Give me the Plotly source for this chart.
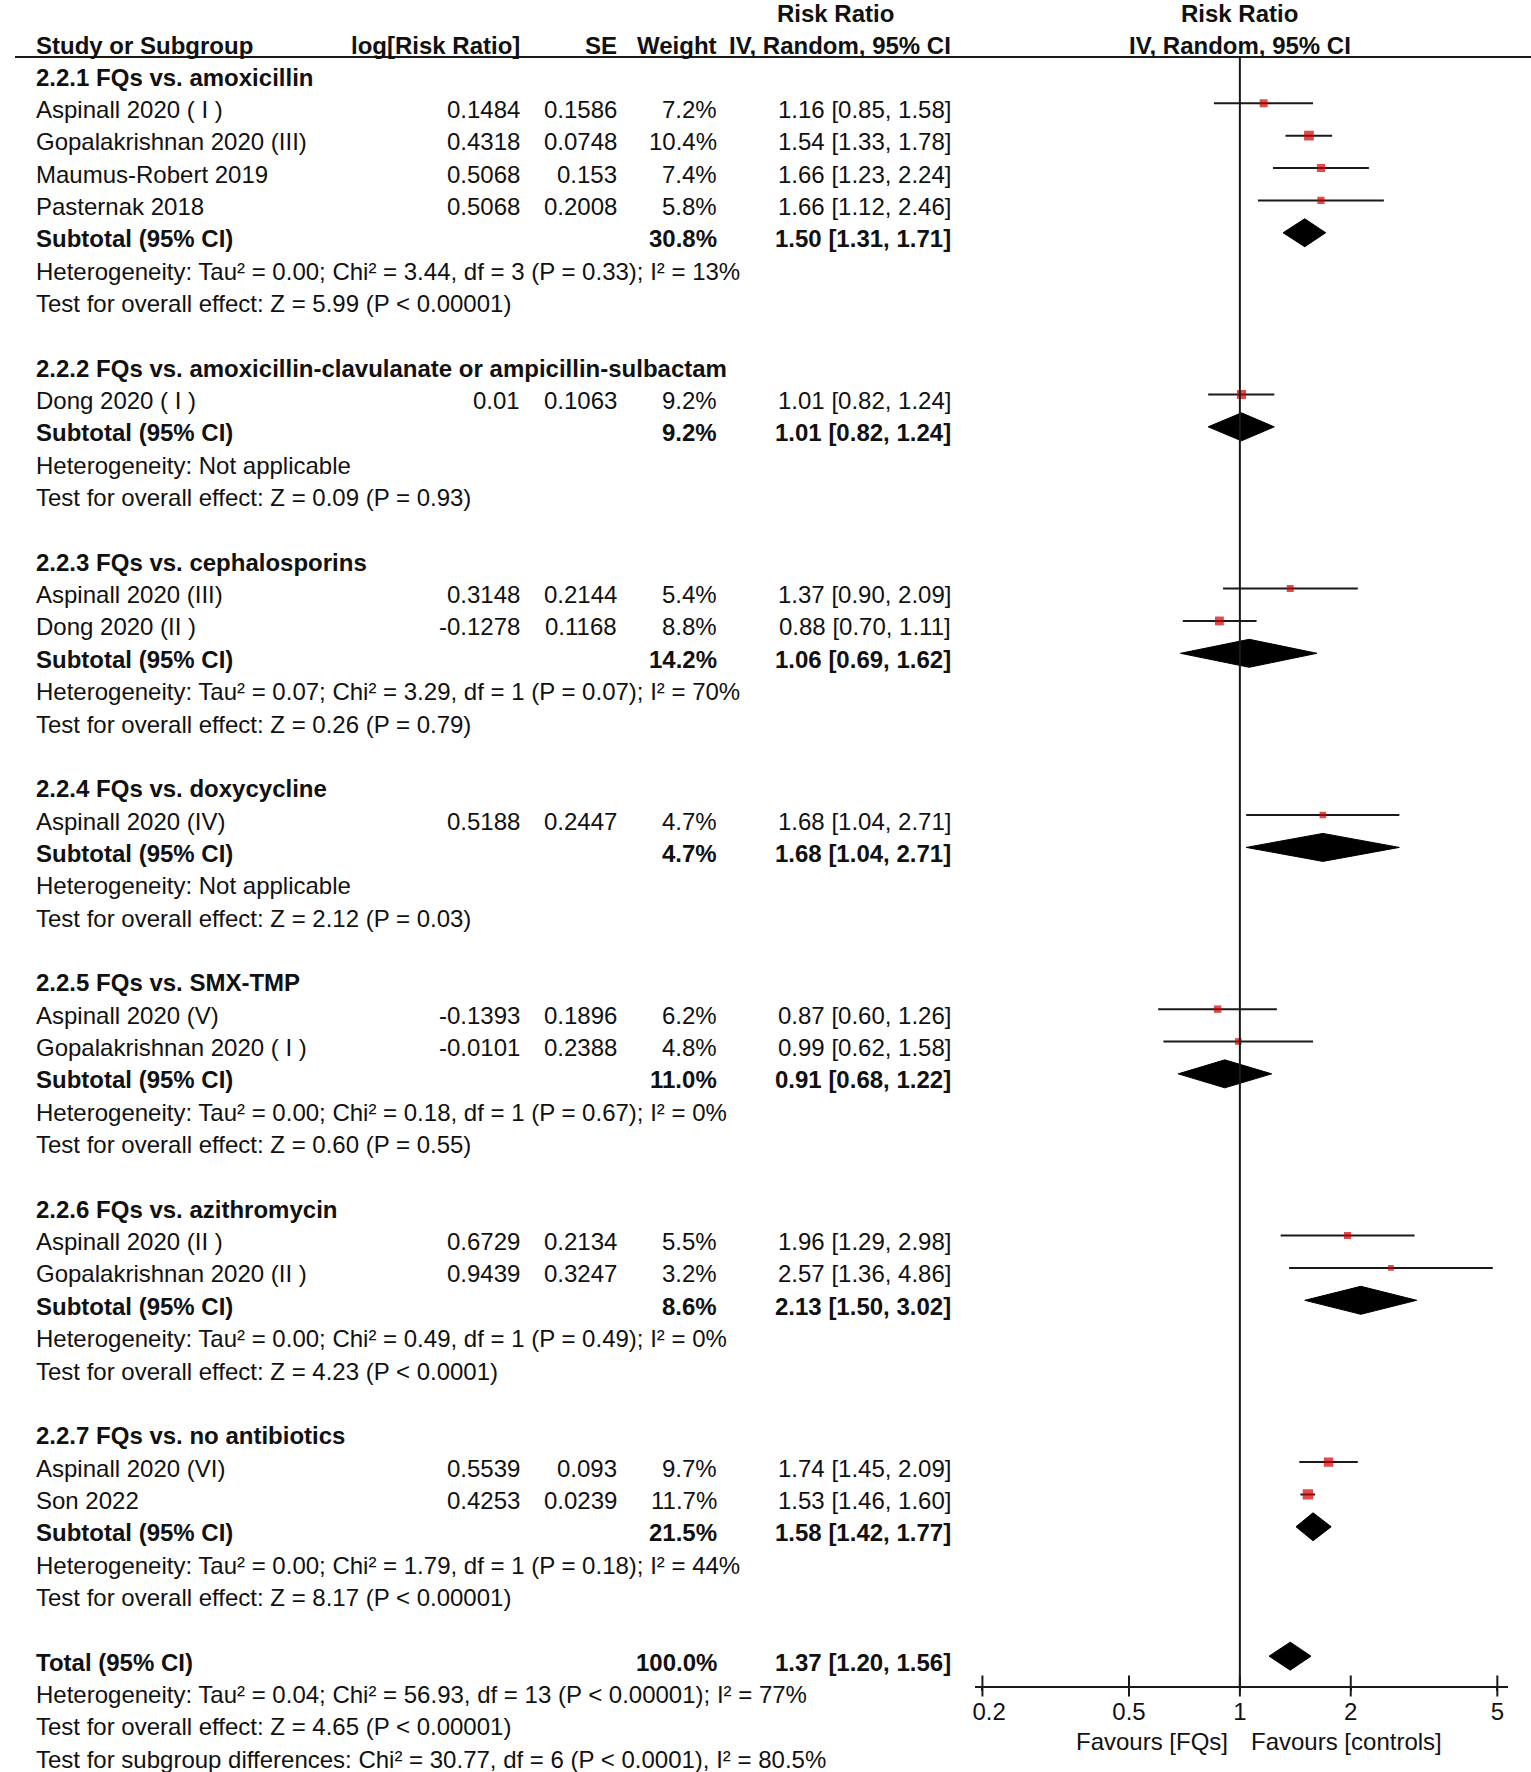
import plotly.graph_objects as go
import math

# ---------------- data ----------------
group_titles = [
    "2.2.1 FQs vs. amoxicillin",
    "2.2.2 FQs vs. amoxicillin-clavulanate or ampicillin-sulbactam",
    "2.2.3 FQs vs. cephalosporins",
    "2.2.4 FQs vs. doxycycline",
    "2.2.5 FQs vs. SMX-TMP",
    "2.2.6 FQs vs. azithromycin",
    "2.2.7 FQs vs. no antibiotics",
]
group_sizes = [4, 1, 2, 1, 2, 2, 2]

study_names = [
    "Aspinall 2020 ( I )", "Gopalakrishnan 2020 (III)", "Maumus-Robert 2019", "Pasternak 2018",
    "Dong 2020 ( I )",
    "Aspinall 2020 (III)", "Dong 2020 (II )",
    "Aspinall 2020 (IV)",
    "Aspinall 2020 (V)", "Gopalakrishnan 2020 ( I )",
    "Aspinall 2020 (II )", "Gopalakrishnan 2020 (II )",
    "Aspinall 2020 (VI)", "Son 2022",
]
log_rr = ["0.1484", "0.4318", "0.5068", "0.5068", "0.01", "0.3148", "-0.1278", "0.5188",
          "-0.1393", "-0.0101", "0.6729", "0.9439", "0.5539", "0.4253"]
se = ["0.1586", "0.0748", "0.153", "0.2008", "0.1063", "0.2144", "0.1168", "0.2447",
      "0.1896", "0.2388", "0.2134", "0.3247", "0.093", "0.0239"]
weight = [7.2, 10.4, 7.4, 5.8, 9.2, 5.4, 8.8, 4.7, 6.2, 4.8, 5.5, 3.2, 9.7, 11.7]
rr = [1.16, 1.54, 1.66, 1.66, 1.01, 1.37, 0.88, 1.68, 0.87, 0.99, 1.96, 2.57, 1.74, 1.53]
rr_lo = [0.85, 1.33, 1.23, 1.12, 0.82, 0.90, 0.70, 1.04, 0.60, 0.62, 1.29, 1.36, 1.45, 1.46]
rr_hi = [1.58, 1.78, 2.24, 2.46, 1.24, 2.09, 1.11, 2.71, 1.26, 1.58, 2.98, 4.86, 2.09, 1.60]

sub_weight = [30.8, 9.2, 14.2, 4.7, 11.0, 8.6, 21.5]
sub_rr = [1.50, 1.01, 1.06, 1.68, 0.91, 2.13, 1.58]
sub_lo = [1.31, 0.82, 0.69, 1.04, 0.68, 1.50, 1.42]
sub_hi = [1.71, 1.24, 1.62, 2.71, 1.22, 3.02, 1.77]
het_text = [
    "Heterogeneity: Tau² = 0.00; Chi² = 3.44, df = 3 (P = 0.33); I² = 13%",
    "Heterogeneity: Not applicable",
    "Heterogeneity: Tau² = 0.07; Chi² = 3.29, df = 1 (P = 0.07); I² = 70%",
    "Heterogeneity: Not applicable",
    "Heterogeneity: Tau² = 0.00; Chi² = 0.18, df = 1 (P = 0.67); I² = 0%",
    "Heterogeneity: Tau² = 0.00; Chi² = 0.49, df = 1 (P = 0.49); I² = 0%",
    "Heterogeneity: Tau² = 0.00; Chi² = 1.79, df = 1 (P = 0.18); I² = 44%",
]
effect_text = [
    "Test for overall effect: Z = 5.99 (P < 0.00001)",
    "Test for overall effect: Z = 0.09 (P = 0.93)",
    "Test for overall effect: Z = 0.26 (P = 0.79)",
    "Test for overall effect: Z = 2.12 (P = 0.03)",
    "Test for overall effect: Z = 0.60 (P = 0.55)",
    "Test for overall effect: Z = 4.23 (P < 0.0001)",
    "Test for overall effect: Z = 8.17 (P < 0.00001)",
]
total_weight = 100.0
total_rr, total_lo, total_hi = 1.37, 1.20, 1.56
total_het = "Heterogeneity: Tau² = 0.04; Chi² = 56.93, df = 13 (P < 0.00001); I² = 77%"
total_effect = "Test for overall effect: Z = 4.65 (P < 0.00001)"
subgroup_diff = "Test for subgroup differences: Chi² = 30.77, df = 6 (P < 0.0001), I² = 80.5%"

tick_vals = [0.2, 0.5, 1, 2, 5]
tick_text = ["\u00a0\u00a00.2", "0.5", "1", "2", "5"]
favours_left = "Favours [FQs]"
favours_right = "Favours [controls]"

# ---------------- geometry (page pixels) ----------------
W, H = 1531, 1772
PAGE_OFF = 0.0                  # body margin removed by post_script
ROW0, DY = 77.0, 32.35          # page pixel centre of first text row, row pitch
MARK_OFF = 6.0                  # marks sit slightly above text centre
HEAD_LINE = 57.0
AXIS_Y = 1686.0
X_LEFT, X_RIGHT = 969.0, 1508.0  # forest axis line extent in px
X02, X5 = 977.0, 1497.0          # pixel of 0.2 and 5
ppd = (X5 - X02) / (math.log10(5) - math.log10(0.2))
lg_left = math.log10(0.2) + (X_LEFT - X02) / ppd
lg_right = math.log10(0.2) + (X_RIGHT - X02) / ppd

def fx(p):   # page px -> figure px
    return p - PAGE_OFF
def fy(p):
    return p - PAGE_OFF

def prow(p):  # page pixel -> text row units
    return (p - ROW0) / DY

y_top, y_bot = prow(PAGE_OFF), prow(PAGE_OFF + H)
def mrow(p):
    return (p - (ROW0 - MARK_OFF)) / DY
y2_top, y2_bot = mrow(HEAD_LINE), mrow(AXIS_Y)

FONT = "Liberation Sans, Arial, sans-serif"
FS = 24
TXT = "#111111"

COL_STUDY = 19
COL_LOG = 512
COL_SE = 610
COL_W = 711
COL_CI = 947
COL_RR_HDR = 829
COL_FOREST_HDR = 1237

annotations = []
def txt(x, r, s, anchor="left", bold=False, size=FS):
    annotations.append(dict(
        x=x, y=r, xref="x", yref="y", text=(f"<b>{s}</b>" if bold else s),
        showarrow=False, xanchor=anchor, yanchor="middle",
        font=dict(family=FONT, size=size, color=TXT)))

# header
txt(COL_STUDY, prow(45), "Study or Subgroup", bold=True)
txt(COL_LOG, prow(45), "log[Risk Ratio]", anchor="right", bold=True)
txt(COL_SE, prow(45), "SE", anchor="right", bold=True)
txt(COL_W, prow(45), "Weight", anchor="right", bold=True)
txt(COL_CI, prow(45), "IV, Random, 95% CI", anchor="right", bold=True)
txt(COL_RR_HDR, prow(13), "Risk Ratio", anchor="center", bold=True)
txt(COL_FOREST_HDR, prow(13), "Risk Ratio", anchor="center", bold=True)
txt(COL_FOREST_HDR, prow(45), "IV, Random, 95% CI", anchor="center", bold=True)

def ci_str(a, b, c):
    return f"{a:.2f} [{b:.2f}, {c:.2f}]"

study_rows, sub_rows = [], []
r = 0
k = 0
for g, n in enumerate(group_sizes):
    txt(COL_STUDY, r, group_titles[g], bold=True)
    r += 1
    for _ in range(n):
        txt(COL_STUDY, r, study_names[k])
        txt(COL_LOG, r, log_rr[k], anchor="right")
        txt(COL_SE, r, se[k], anchor="right")
        txt(COL_W, r, f"{weight[k]:.1f}%", anchor="right")
        txt(COL_CI, r, ci_str(rr[k], rr_lo[k], rr_hi[k]), anchor="right")
        study_rows.append(r)
        k += 1
        r += 1
    txt(COL_STUDY, r, "Subtotal (95% CI)", bold=True)
    txt(COL_W, r, f"{sub_weight[g]:.1f}%", anchor="right", bold=True)
    txt(COL_CI, r, ci_str(sub_rr[g], sub_lo[g], sub_hi[g]), anchor="right", bold=True)
    sub_rows.append(r)
    r += 1
    txt(COL_STUDY, r, het_text[g]); r += 1
    txt(COL_STUDY, r, effect_text[g]); r += 1
    r += 1  # blank row

total_row = r
txt(COL_STUDY, r, "Total (95% CI)", bold=True)
txt(COL_W, r, f"{total_weight:.1f}%", anchor="right", bold=True)
txt(COL_CI, r, ci_str(total_rr, total_lo, total_hi), anchor="right", bold=True)
txt(COL_STUDY, r + 1, total_het)
txt(COL_STUDY, r + 2, total_effect)
txt(COL_STUDY, r + 3, subgroup_diff)

# favours labels
txt(1227, prow(1741), favours_left, anchor="right")
txt(1246, prow(1741), favours_right, anchor="left")

# ---------------- traces ----------------
fig = go.Figure()

fig.add_trace(go.Scatter(x=[W / 2], y=[0], xaxis="x", yaxis="y", mode="markers",
                         marker=dict(opacity=0), hoverinfo="skip", showlegend=False))

# study CI whiskers
wx, wy = [], []
for i, rw in enumerate(study_rows):
    wx += [rr_lo[i], rr_hi[i], None]
    wy += [rw, rw, None]
fig.add_trace(go.Scatter(x=wx, y=wy, xaxis="x2", yaxis="y2", mode="lines",
                         line=dict(color="#1a1a1a", width=2), hoverinfo="skip",
                         showlegend=False))
# study point estimates
fig.add_trace(go.Scatter(x=rr, y=study_rows, xaxis="x2", yaxis="y2", mode="markers",
                         marker=dict(symbol="square", color="#d00000",
                                     size=[4.0 + 0.55 * w for w in weight],
                                     line=dict(width=0)),
                         hoverinfo="skip", showlegend=False))

# diamonds
HALF = 14.0 / DY
def diamond(c, lo, hi, rw):
    fig.add_trace(go.Scatter(x=[lo, c, hi, c, lo], y=[rw, rw - HALF, rw, rw + HALF, rw],
                             xaxis="x2", yaxis="y2", mode="lines", fill="toself",
                             fillcolor="#000000", line=dict(color="#000000", width=1),
                             hoverinfo="skip", showlegend=False))
for g, rw in enumerate(sub_rows):
    diamond(sub_rr[g], sub_lo[g], sub_hi[g], rw)
diamond(total_rr, total_lo, total_hi, total_row)

# tick marks crossing the axis line
fig.add_trace(go.Scatter(x=tick_vals, y=[y2_bot] * len(tick_vals), xaxis="x2", yaxis="y2",
                         mode="markers", cliponaxis=False,
                         marker=dict(symbol="line-ns", size=15,
                                     line=dict(color="#1a1a1a", width=2)),
                         hoverinfo="skip", showlegend=False))

fig.update_layout(
    width=W, height=H,
    margin=dict(l=0, r=0, t=0, b=0),
    paper_bgcolor="white", plot_bgcolor="rgba(0,0,0,0)",
    showlegend=False,
    annotations=annotations,
    xaxis=dict(domain=[0, 1], range=[PAGE_OFF, PAGE_OFF + W], visible=False, fixedrange=True),
    yaxis=dict(domain=[0, 1], range=[y_bot, y_top], visible=False, fixedrange=True),
    xaxis2=dict(domain=[fx(X_LEFT) / W, fx(X_RIGHT) / W], type="log", range=[lg_left, lg_right],
                anchor="y2", showline=True, linecolor="#1a1a1a", linewidth=2,
                showgrid=False, zeroline=False, fixedrange=True,
                tickvals=tick_vals, ticktext=tick_text, ticks="outside", ticklen=3,
                tickwidth=2, tickcolor="#1a1a1a",
                tickfont=dict(family=FONT, size=FS, color=TXT)),
    yaxis2=dict(domain=[1 - fy(AXIS_Y) / H, 1 - fy(HEAD_LINE) / H], range=[y2_bot, y2_top],
                anchor="x2", visible=False, showgrid=False, zeroline=False, fixedrange=True),
    shapes=[
        dict(type="line", xref="paper", yref="paper", x0=0, x1=1,
             y0=1 - fy(HEAD_LINE) / H, y1=1 - fy(HEAD_LINE) / H,
             line=dict(color="#1a1a1a", width=2)),
        dict(type="line", xref="x2", yref="y2 domain", x0=1, x1=1, y0=0, y1=1,
             line=dict(color="#1a1a1a", width=2)),
    ],
)

fig.write_html("out.html",
               config={"displayModeBar": False},
               post_script="document.body.style.margin='0px';document.body.style.overflow='hidden';")
